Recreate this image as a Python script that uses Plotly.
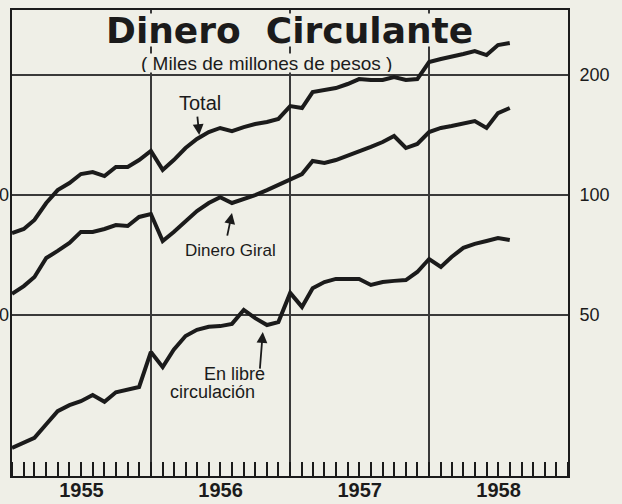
import math
import plotly.graph_objects as go
import pandas as pd

# Monthly values, Jan 1955 - Aug 1958 (miles de millones de pesos)
months = pd.date_range("1955-01-01", periods=44, freq="MS")

total = [80.3, 82.2, 86.6, 95.5, 102.9, 107.2, 112.9, 114.2, 111.6, 117.6, 117.6, 122.4,
         129.0, 115.6, 122.4, 131.2, 138.2, 143.9, 147.3, 144.7, 148.1, 150.7, 152.5, 155.2,
         167.2, 165.3, 181.3, 183.4, 185.5, 189.9, 195.4, 194.3, 194.3, 197.7, 194.3, 195.4,
         215.6, 219.4, 221.9, 225.8, 229.7, 224.5, 237.8, 240.6]

giral = [56.5, 59.1, 62.3, 69.5, 72.4, 75.8, 80.8, 80.8, 82.2, 84.1, 83.6, 88.1,
         89.6, 76.7, 80.8, 85.6, 91.2, 95.5, 98.8, 95.5, 97.7, 100.0, 102.9, 105.9,
         109.1, 112.9, 121.7, 120.3, 122.4, 125.3, 128.2, 132.0, 135.8, 140.6, 131.2, 134.3,
         143.9, 147.3, 149.0, 151.6, 153.3, 147.3, 160.5, 165.3]

circulacion = [23.2, 23.9, 24.6, 26.6, 28.7, 29.7, 30.4, 31.5, 30.3, 32.0, 32.6, 33.0,
               40.4, 37.0, 40.9, 44.3, 45.9, 46.7, 46.9, 47.5, 51.5, 49.1, 47.2, 48.0,
               56.8, 52.4, 58.4, 60.5, 61.6, 61.6, 61.6, 59.5, 60.5, 60.9, 61.2, 64.1,
               69.1, 66.0, 69.9, 73.7, 75.4, 76.7, 78.0, 77.1]

y_ticks = [50, 100, 200]
y_tick_text = ["50", "100", "200"]
left_ticks = [50, 100]
left_tick_text = ["50", "100"]

# label arrow targets (date, value on the line)
arrow_targets = [("1956-05-07", 141.4), ("1956-08-01", 90.1), ("1956-10-21", 45.3)]

BG = "#efefe7"
INK = "#1b1b1b"
GRID = "#3a3a3a"
FONT = "Liberation Sans"
TITLE_FONT = "DejaVu Sans"

fig = go.Figure()
for series, name in [(total, "Total"), (giral, "Dinero Giral"), (circulacion, "En libre circulación")]:
    fig.add_trace(go.Scatter(x=months, y=series, mode="lines", name=name,
                             line=dict(color=INK, width=4), showlegend=False,
                             hoverinfo="x+y+name"))

# invisible trace to activate the left axis
fig.add_trace(go.Scatter(x=[months[0]], y=[total[0]], yaxis="y2", mode="markers",
                         marker=dict(opacity=0), showlegend=False, hoverinfo="skip"))

yrange = [1.2951, 2.4642]

fig.update_layout(
    width=622, height=504,
    margin=dict(l=12, r=54, t=10, b=28),
    paper_bgcolor=BG, plot_bgcolor=BG,
    font=dict(family=FONT, color=INK),
    xaxis=dict(
        type="date", range=["1955-01-01", "1959-01-01"],
        tick0="1955-01-01", dtick="M12", ticklabelmode="period",
        tickformat="%Y", showgrid=True, gridcolor=GRID, gridwidth=1.5,
        ticks="inside", ticklen=14, tickcolor=INK, tickwidth=1.5,
        minor=dict(dtick="M1", tick0="1955-01-01", ticks="inside", ticklen=14,
                   tickcolor=INK, tickwidth=1.5, showgrid=False),
        showline=True, mirror=True, linecolor=INK, linewidth=2,
        tickfont=dict(family=FONT, size=20, color=INK, weight="bold"),
        zeroline=False, fixedrange=True, automargin=False, ticklabelstandoff=-5,
    ),
    yaxis=dict(
        type="log", range=yrange, side="right",
        tickvals=y_ticks, ticktext=y_tick_text,
        showgrid=True, gridcolor=GRID, gridwidth=1.5,
        ticks="", ticklabelstandoff=6,
        showline=True, mirror=True, linecolor=INK, linewidth=2,
        tickfont=dict(family=FONT, size=18, color=INK),
        zeroline=False, automargin=False, fixedrange=True,
    ),
    yaxis2=dict(
        type="log", range=yrange, side="left", overlaying="y",
        tickvals=left_ticks, ticktext=left_tick_text,
        showgrid=False, ticks="", ticklabelstandoff=2, showline=False,
        tickfont=dict(family=FONT, size=18, color=INK),
        automargin=False, fixedrange=True,
    ),
)

def px_x(px):
    return (px - 12) / 556.0

def px_y(py):
    return (476 - py) / 466.0

def label(text, px, py, size, bg=None, weight="normal", height=None, family=FONT):
    kw = dict(bgcolor=bg, borderpad=0) if bg else {}
    if height:
        kw["height"] = height
    fig.add_annotation(text=text, xref="paper", yref="paper", x=px_x(px), y=px_y(py),
                       showarrow=False, xanchor="center", yanchor="middle",
                       font=dict(family=family, size=size, color=INK, weight=weight), **kw)

# Title block (opaque, covering grid lines like the original lettering)
label("Dinero  Circulante", 289, 30, 36, bg=BG, weight="bold", height=32, family=TITLE_FONT)
label("( Miles de millones de pesos )", 266, 63, 19, bg=BG, height=18)

# Series labels
label("Total", 200, 103, 20)
label("Dinero Giral", 230, 250, 17)
label("En libre", 234, 374, 18)
label("circulación", 212, 392, 18)

# Arrows pointing at the lines (log axis -> annotation y in log10 units)
tails = [(-2, -20), (-5, 24), (-3, 38)]
for (xd, yv), (ax, ay) in zip(arrow_targets, tails):
    fig.add_annotation(x=xd, y=math.log10(yv), xref="x", yref="y", ax=ax, ay=ay,
                       showarrow=True, text="", arrowhead=2, arrowsize=1.2,
                       arrowwidth=1.8, arrowcolor=INK, standoff=0)

fig.write_html("out.html", config={"displayModeBar": False},
               post_script="document.body.style.margin='0';document.body.style.overflow='hidden';")
